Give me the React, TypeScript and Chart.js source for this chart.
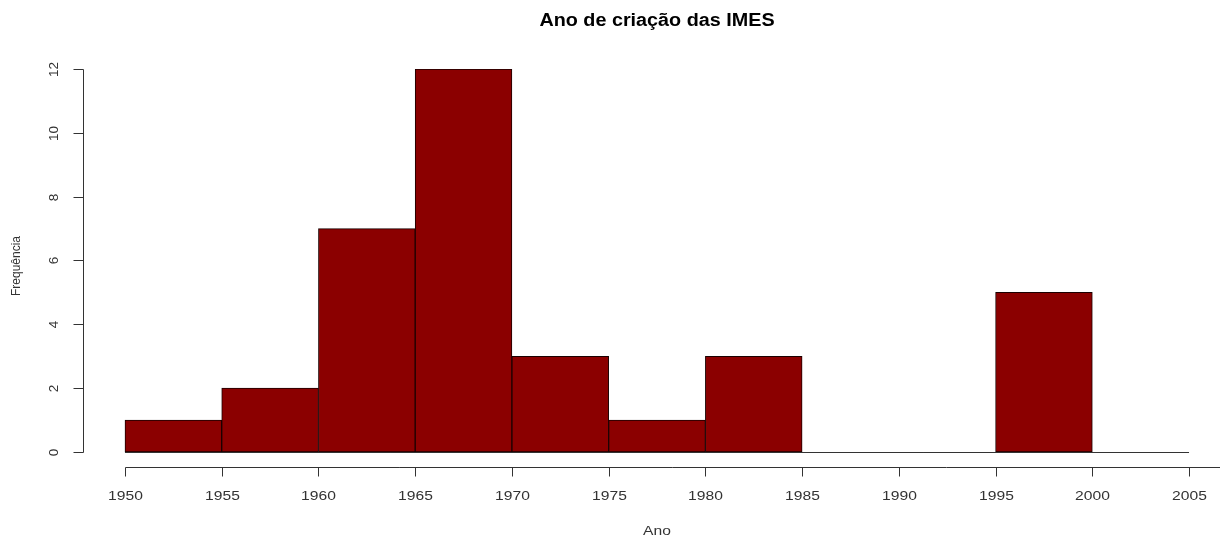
import React, { useEffect, useRef } from "react";
import { Chart, registerables } from "chart.js";

Chart.register(...registerables);

// ---- data ----
const binStarts = [1950, 1955, 1960, 1965, 1970, 1975, 1980, 1985, 1990, 1995, 2000];
const counts = [1, 2, 7, 12, 3, 1, 3, 0, 0, 5, 0];
const binWidth = 5;
const xTicks = [1950, 1955, 1960, 1965, 1970, 1975, 1980, 1985, 1990, 1995, 2000, 2005];
const yTicks = [0, 2, 4, 6, 8, 10, 12];
const titleText = "Ano de criação das IMES";
const xLabel = "Ano";
const yLabel = "Frequência";

const W = 1220;
const H = 535;
const FONT = "Arial, 'Liberation Sans', sans-serif";

function drawText(
  ctx: CanvasRenderingContext2D,
  text: string,
  x: number,
  y: number,
  font: string,
  sx: number,
  rot: number
) {
  ctx.save();
  ctx.translate(x, y);
  if (rot) ctx.rotate(rot);
  ctx.scale(sx, 1);
  ctx.font = font;
  ctx.textAlign = "center";
  ctx.textBaseline = "middle";
  ctx.fillText(text, 0, 0);
  ctx.restore();
}

const rAxesPlugin = {
  id: "rAxes",
  afterDraw(chart: any) {
    const { ctx, chartArea } = chart;
    const xs = chart.scales.x;
    const ys = chart.scales.y;
    ctx.save();
    ctx.strokeStyle = "#333";
    ctx.fillStyle = "#333";
    ctx.lineWidth = 1;
    const line = (x1: number, y1: number, x2: number, y2: number) => {
      ctx.beginPath();
      ctx.moveTo(x1, y1);
      ctx.lineTo(x2, y2);
      ctx.stroke();
    };
    // histogram baseline (zero-height bins included)
    const y0 = Math.round(ys.getPixelForValue(0)) + 0.5;
    line(
      xs.getPixelForValue(binStarts[0]),
      y0,
      xs.getPixelForValue(binStarts[binStarts.length - 1] + binWidth),
      y0
    );
    // y axis
    const ax = Math.round(chartArea.left) + 0.5;
    line(ax, Math.round(ys.getPixelForValue(yTicks[0])) + 0.5, ax, Math.round(ys.getPixelForValue(yTicks[yTicks.length - 1])) + 0.5);
    yTicks.forEach((t) => {
      const py = Math.round(ys.getPixelForValue(t)) + 0.5;
      line(ax - 10, py, ax, py);
      drawText(ctx, String(t), ax - 29, py, `13.5px ${FONT}`, 1, -Math.PI / 2);
    });
    // x axis
    const ay = Math.round(chartArea.bottom) + 0.5;
    line(Math.round(xs.getPixelForValue(xTicks[0])) + 0.5, ay, chartArea.right, ay);
    xTicks.forEach((t) => {
      const px = Math.round(xs.getPixelForValue(t)) + 0.5;
      line(px, ay, px, ay + 9);
      drawText(ctx, String(t), px, ay + 29, `12.5px ${FONT}`, 1.25, 0);
    });
    // axis titles
    const midX = (xs.getPixelForValue(xTicks[0]) + xs.getPixelForValue(xTicks[xTicks.length - 1])) / 2;
    drawText(ctx, xLabel, midX, ay + 64, `12.5px ${FONT}`, 1.25, 0);
    drawText(ctx, yLabel, 17, 266, `12px ${FONT}`, 1, -Math.PI / 2);
    // main title
    ctx.fillStyle = "#000";
    drawText(ctx, titleText, midX, 21, `bold 17.5px ${FONT}`, 1.13, 0);
    ctx.restore();
  },
};

export default function App() {
  const ref = useRef<HTMLCanvasElement | null>(null);
  useEffect(() => {
    if (!ref.current) return;
    const data = binStarts.map((b, i) => ({ x: b + binWidth / 2, y: counts[i] }));
    const chart = new Chart(ref.current, {
      type: "bar",
      data: {
        datasets: [
          {
            data,
            backgroundColor: "#8B0000",
            borderColor: "#1a0000",
            borderWidth: 1,
            borderSkipped: false,
            barPercentage: 1,
            categoryPercentage: 1,
          },
        ],
      },
      options: {
        animation: false,
        responsive: false,
        maintainAspectRatio: false,
        layout: { padding: { left: 83, top: 69, right: 0, bottom: 68 } },
        plugins: {
          legend: { display: false },
          title: { display: false },
          tooltip: { enabled: false },
        },
        scales: {
          x: {
            type: "linear",
            display: false,
            offset: false,
            min: 1947.83,
            max: 2006.6,
          },
          y: {
            type: "linear",
            display: false,
            min: -0.47,
            max: 12,
          },
        },
      },
      plugins: [rAxesPlugin],
    });
    return () => chart.destroy();
  }, []);
  return (
    <div style={{ position: "fixed", left: 0, top: 0, width: W, height: H, background: "#fff" }}>
      <canvas ref={ref} width={W} height={H} style={{ width: W, height: H, display: "block" }} />
    </div>
  );
}
